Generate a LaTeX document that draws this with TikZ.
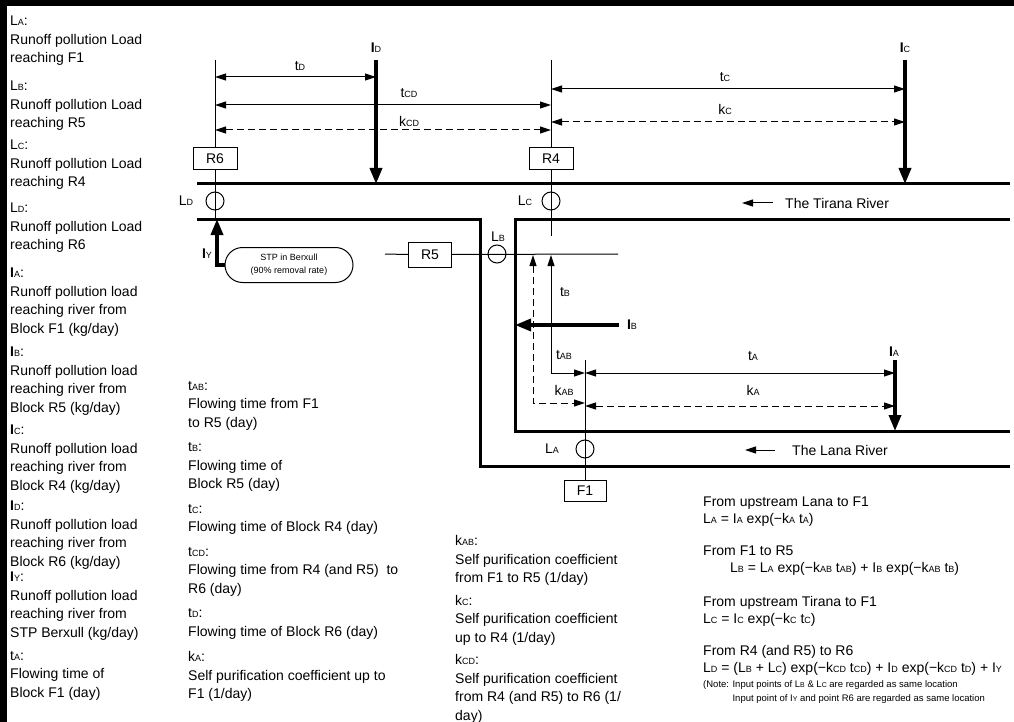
\documentclass[tikz,border=0pt]{standalone}
\usepackage{fontspec}
\setmainfont{Liberation Sans}
\usetikzlibrary{positioning, arrows.meta, shapes.misc}

\newcommand{\sbs}[1]{{\fontsize{9}{9}\selectfont #1}}
\newcommand{\lvar}[1]{L\sbs{#1}}
\newcommand{\ivar}[1]{\textbf{I}\sbs{#1}}
\newcommand{\tvar}[1]{t\sbs{#1}}
\newcommand{\kvar}[1]{k\sbs{#1}}

\begin{document}
\begin{tikzpicture}[x=1pt, y=-1pt,
		every node/.style={inner sep=0pt, font=\fontsize{14}{16}\selectfont},
		txt/.style={anchor=north west, align=left, font=\fontsize{14}{18.5}\selectfont},
		eqn/.style={anchor=north west, align=left, font=\fontsize{14}{17}\selectfont},
		blk/.style={rectangle, draw, line width=1pt, fill=white, minimum width=44pt, minimum height=22pt},
		pt/.style={circle, draw, line width=1pt, minimum size=18pt},
		bank/.style={line width=3pt},
		guide/.style={line width=1pt},
		load/.style={line width=3.5pt, -{Triangle[length=16pt, width=12pt]}},
		dimline/.style={line width=1pt, {Triangle[length=11pt, width=7pt]}-{Triangle[length=11pt, width=7pt]}},
		dimdash/.style={dimline, dash pattern=on 7pt off 4pt},
		flow/.style={line width=1pt, -{Triangle[length=11pt, width=7pt]}}
	]
	\useasboundingbox (0,0) rectangle (1014,722);
	% frame
	\fill (0,0) rectangle (1014,6);
	\fill (0,0) rectangle (7,722);
	
	% River banks
	\coordinate (tw) at (197,184); \coordinate (te) at (1010,184);
	\coordinate (bw) at (197,219); \coordinate (bj) at (480,219);
	\coordinate (bs) at (480,466); \coordinate (be) at (1010,466);
	\coordinate (cn) at (1010,219); \coordinate (cj) at (515,219);
	\coordinate (cs) at (515,431); \coordinate (ce) at (1010,431);
	\draw [bank] (tw) -- (te);
	\draw [bank] (bw) -- (bj) -- (bs) -- (be);
	\draw [bank] (cn) -- (cj) -- (cs) -- (ce);
	
	% Points and blocks
	\node (r6) [blk] at (215,159) {R6};
	\node (r4) [blk] at (551,159) {R4};
	\node (r5) [blk, minimum width=43pt, minimum height=25pt] at (430,254.5) {R5};
	\node (f1) [blk, minimum width=42pt, minimum height=21pt] at (585,490.5) {F1};
	\node (ld) [pt] at (215,201) {};
	\node (lc) [pt] at (551,201) {};
	\node (lb) [pt] at (497,254) {};
	\node (la) [pt] at (585,449) {};
	\node (stp) [draw, rounded rectangle, line width=1pt, minimum width=128pt, minimum height=35pt, align=center, font=\fontsize{9}{13}\selectfont] at (289,265) {STP in Berxull\\(90\% removal rate)};
	
	\node (lbld) at (186,201) {\lvar{D}};
	\node (lblc) at (525,201) {\lvar{C}};
	\node (lblb) at (498,237) {\lvar{B}};
	\node (lbla) at (552,449) {\lvar{A}};
	
	% Vertical guides
	\coordinate (r6top) at (215,60);
	\coordinate (r4top) at (551,60);
	\coordinate (r4end) at (551,236);
	\coordinate (f1top) at (585,360);
	\draw [guide] (r6top) -- (r6.north) (r6.south) -- (ld |- bw);
	\draw [guide] (r4top) -- (r4.north) (r4.south) -- (r4end);
	\draw [guide] (f1top) -- (f1.north);
	\coordinate (r5w) at (385,254); \coordinate (r5e) at (618,254);
	\draw [guide] (r5w) -- (r5.west) (r5.east) -- (r5e);
	
	% Loads
	\node (lblid) at (376,48) {\ivar{D}};
	\node (lblic) at (905,48) {\ivar{C}};
	\node (lblib) at (632,325) {\ivar{B}};
	\node (lblia) at (894,352) {\ivar{A}};
	\node (lbliy) at (207,254) {\ivar{Y}};
	\coordinate (idtop) at (376,60);
	\coordinate (ictop) at (905,60);
	\coordinate (ibstart) at (619,325);
	\coordinate (iatop) at (895,360);
	\coordinate (iyc) at (217,265);
	\draw [load] (idtop) -- (idtop |- tw);
	\draw [load] (ictop) -- (ictop |- tw);
	\draw [load] (ibstart) -- (ibstart -| cj);
	\draw [load] (iatop) -- (iatop |- cs);
	\draw [load] (stp.west) -- (iyc) -- (iyc |- bw);
	
	% Flowing times and coefficients, Tirana side
	\coordinate (tda) at (215,77);  \coordinate (tdb) at (376,77);
	\coordinate (tca) at (551,89);  \coordinate (tcb) at (905,89);
	\coordinate (tcda) at (215,105); \coordinate (tcdb) at (551,105);
	\coordinate (kca) at (551,122); \coordinate (kcb) at (905,122);
	\coordinate (kcda) at (215,130); \coordinate (kcdb) at (551,130);
	\draw [dimline] (tda) -- (tdb);
	\draw [dimline] (tca) -- (tcb);
	\draw [dimline] (tcda) -- (tcdb);
	\draw [dimdash] (kca) -- (kcb);
	\draw [dimdash] (kcda) -- (kcdb);
	\node (lbltd) at (300,66) {\tvar{D}};
	\node (lbltc) at (725,77) {\tvar{C}};
	\node (lbltcd) at (409,93) {\tvar{CD}};
	\node (lblkc) at (725,109) {\kvar{C}};
	\node (lblkcd) at (409,121) {\kvar{CD}};
	
	% Flowing times and coefficients, Lana side
	\coordinate (tbtop) at (551,255); \coordinate (tbc) at (551,373);
	\coordinate (kabtop) at (533,255); \coordinate (kabc) at (533,403);
	\coordinate (taa) at (585,373); \coordinate (tab) at (895,373);
	\coordinate (kaa) at (585,403); \coordinate (kab) at (585,406); \coordinate (kae) at (895,406);
	\draw [dimline] (tbtop) -- (tbc) -- (taa);
	\draw [dimdash] (kabtop) -- (kabc) -- (kaa);
	\draw [dimline] (taa) -- (tab);
	\draw [dimdash] (kab) -- (kae);
	\node (lbltb) at (565,292) {\tvar{B}};
	\node (lbltab) at (564,355) {\tvar{AB}};
	\node (lblta) at (753,356) {\tvar{A}};
	\node (lblkab) at (564,390) {\kvar{AB}};
	\node (lblka) at (753,390) {\kvar{A}};
	
	% River names
	\node (tirana) [anchor=west] at (785,203) {The Tirana River};
	\node (lana) [anchor=west] at (792,450) {The Lana River};
	\coordinate (tflow) at (742,203);
	\coordinate (lflow) at (745,450);
	\draw [flow] ([xshift=-12pt]tirana.west) -- (tflow);
	\draw [flow] ([xshift=-17pt]lana.west) -- (lflow);
	
	% Definitions, left column
	\node (dla) [txt] at (10,16) {\lvar{A}:\\Runoff pollution Load\\reaching F1};
	\node (dlb) [txt] at (10,81) {\lvar{B}:\\Runoff pollution Load\\reaching R5};
	\node (dlc) [txt] at (10,140) {\lvar{C}:\\Runoff pollution Load\\reaching R4};
	\node (dld) [txt] at (10,203) {\lvar{D}:\\Runoff pollution Load\\reaching R6};
	\node (dia) [txt] at (10,268) {\ivar{A}:\\Runoff pollution load\\reaching river from\\Block F1 (kg/day)};
	\node (dib) [txt] at (10,347) {\ivar{B}:\\Runoff pollution load\\reaching river from\\Block R5 (kg/day)};
	\node (dic) [txt] at (10,425) {\ivar{C}:\\Runoff pollution load\\reaching river from\\Block R4 (kg/day)};
	\node (did) [txt] at (10,501) {\ivar{D}:\\Runoff pollution load\\reaching river from\\Block R6 (kg/day)};
	\node (diy) [txt] at (10,572) {\ivar{Y}:\\Runoff pollution load\\reaching river from\\STP Berxull (kg/day)};
	\node (dta) [txt] at (10,651) {\tvar{A}:\\Flowing time of\\Block F1 (day)};
	
	% Definitions, middle columns
	\node (dtab) [txt] at (188,381) {\tvar{AB}:\\Flowing time from F1\\to R5 (day)};
	\node (dtb) [txt] at (188,442.5) {\tvar{B}:\\Flowing time of\\Block R5 (day)};
	\node (dtc) [txt] at (188,504) {\tvar{C}:\\Flowing time of Block R4 (day)};
	\node (dtcd) [txt] at (188,547) {\tvar{CD}:\\Flowing time from R4 (and R5)\ \ to\\R6 (day)};
	\node (dtd) [txt] at (188,608.5) {\tvar{D}:\\Flowing time of Block R6 (day)};
	\node (dka) [txt] at (188,651.5) {\kvar{A}:\\Self purification coefficient up to\\F1 (1/day)};
	\node (dkab) [txt] at (455,535.5) {\kvar{AB}:\\Self purification coefficient\\from F1 to R5 (1/day)};
	\node (dkc) [txt] at (455,595) {\kvar{C}:\\Self purification coefficient\\up to R4 (1/day)};
	\node (dkcd) [txt] at (455,654.5) {\kvar{CD}:\\Self purification coefficient\\from R4 (and R5) to R6 (1/\\day)};
	
	% Equations
	\node (eqa) [eqn] at (703,496.5) {From upstream Lana to F1\\\lvar{A} = I\sbs{A} exp(−\kvar{A} \tvar{A})};
	\node (eqb) [eqn] at (703,546) {From F1 to R5\\\hspace*{27pt}\lvar{B} = \lvar{A} exp(−\kvar{AB} \tvar{AB}) + I\sbs{B} exp(−\kvar{AB} \tvar{B})};
	\node (eqc) [eqn] at (703,596) {From upstream Tirana to F1\\\lvar{C} = I\sbs{C} exp(−\kvar{C} \tvar{C})};
	\node (eqd) [eqn] at (703,645.5) {From R4 (and R5) to R6\\\lvar{D} = (\lvar{B} + \lvar{C}) exp(−\kvar{CD} \tvar{CD}) + I\sbs{D} exp(−\kvar{CD} \tvar{D}) + I\sbs{Y}};
	\node (note) [anchor=north west, align=left, font=\fontsize{9.5}{14}\selectfont] at (703,680) {(Note: Input points of L{\fontsize{7}{7}\selectfont B} \& L{\fontsize{7}{7}\selectfont C} are regarded as same location\\\hphantom{(Note: }Input point of I{\fontsize{7}{7}\selectfont Y} and point R6 are regarded as same location};
\end{tikzpicture}
\end{document}
